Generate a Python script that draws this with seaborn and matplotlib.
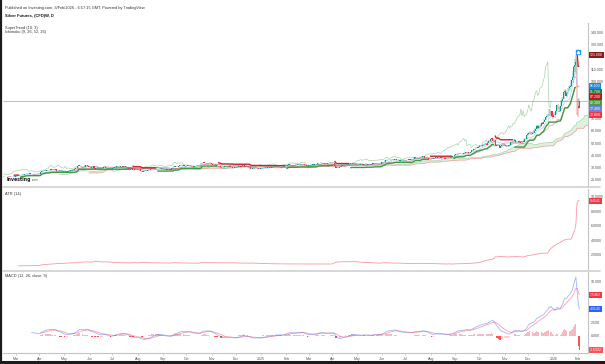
import numpy as np
import pandas as pd
import matplotlib
matplotlib.use("Agg")
import matplotlib.pyplot as plt
import seaborn as sns
from matplotlib.lines import Line2D
from matplotlib.transforms import blended_transform_factory

# ---------------- daily closes, by month ----------------
c_2024_02 = [22.9, 23.4, 23.3, 22.9, 22.7, 22.6, 22.8, 22.6, 22.5, 22.6, 22.7]
c_2024_03 = [23.2, 23.9, 23.8, 23.9, 24.2, 24.3, 24.4, 24.3, 24.9, 25.1, 25.0, 25.0, 25.3, 24.9, 25.0, 24.6, 24.5, 24.7, 24.8, 24.6, 25.1]
c_2024_04 = [25.1, 26.2, 27.1, 27.2, 27.5, 27.7, 28.0, 27.9, 28.2, 28.0, 29.0, 28.3, 28.2, 28.3, 28.7, 27.3, 27.2, 27.4, 27.5, 27.3, 27.3, 26.5]
c_2024_05 = [26.6, 26.7, 26.6, 27.2, 27.4, 27.5, 28.2, 28.2, 28.2, 29.0, 29.7, 29.6, 31.3, 31.9, 31.6, 30.5, 30.5, 30.4, 30.8, 32.1, 31.9, 31.3, 30.4]
c_2024_06 = [30.4, 29.6, 29.9, 31.3, 29.2, 29.7, 29.8, 29.5, 29.3, 29.6, 29.6, 29.7, 30.6, 30.9, 29.5, 29.6, 28.9, 29.0, 28.9, 29.1]
c_2024_07 = [29.6, 30.0, 30.5, 30.7, 31.3, 30.8, 30.8, 31.0, 31.2, 30.8, 31.0, 31.3, 30.4, 29.6, 29.2, 29.3, 29.3, 29.4, 28.0, 27.9, 28.6, 28.9, 28.9]
c_2024_08 = [28.8, 28.6, 27.3, 27.2, 26.9, 27.3, 27.5, 27.7, 27.9, 28.1, 28.5, 28.9, 29.5, 29.3, 29.6, 29.5, 29.9, 30.0, 29.8, 29.4, 29.5, 28.9]
c_2024_09 = [28.6, 28.4, 28.1, 28.6, 28.0, 28.3, 28.7, 28.4, 29.6, 30.7, 31.0, 30.7, 30.6, 30.6, 31.1, 31.9, 32.3, 31.6, 31.8, 31.4, 31.2]
c_2024_10 = [31.4, 32.0, 31.8, 32.1, 31.3, 31.2, 30.7, 31.0, 31.5, 31.6, 31.5, 31.6, 31.8, 33.7, 33.9, 34.5, 33.5, 33.8, 33.7, 33.6, 33.9, 33.8, 32.7]
c_2024_11 = [32.4, 32.3, 32.0, 32.3, 31.5, 31.2, 31.0, 30.7, 30.2, 30.4, 30.3, 31.0, 31.2, 31.3, 30.9, 31.3, 30.3, 30.4, 30.0, 30.1, 30.6]
c_2024_12 = [30.3, 30.7, 31.0, 31.3, 30.9, 31.5, 31.8, 31.8, 30.7, 30.6, 30.6, 30.3, 30.2, 29.1, 29.2, 29.5, 29.6, 29.7, 29.9, 29.5, 29.3, 28.9]
c_2025_01 = [29.4, 29.7, 29.8, 30.1, 30.0, 30.1, 30.2, 30.4, 29.7, 29.9, 30.3, 30.7, 30.7, 30.8, 30.6, 30.6, 30.5, 30.6, 30.3, 30.4, 31.0, 31.3, 31.3]
c_2025_02 = [31.7, 32.2, 32.9, 32.4, 31.8, 31.9, 32.1, 31.8, 32.4, 32.1, 32.8, 32.9, 32.9, 33.0, 32.9, 32.6, 31.9, 31.8, 31.2, 31.2]
c_2025_03 = [31.8, 32.0, 32.3, 32.7, 32.5, 32.6, 32.9, 33.0, 33.8, 33.8, 33.8, 34.0, 33.6, 33.5, 33.1, 33.1, 33.3, 33.6, 34.1, 34.1, 34.1]
c_2025_04 = [34.0, 34.0, 31.7, 29.6, 30.5, 29.6, 30.8, 30.9, 31.5, 32.3, 32.1, 32.5, 32.4, 32.4, 32.6, 32.6, 33.5, 33.6, 33.1, 33.0, 32.9, 32.9]
c_2025_05 = [32.3, 32.0, 32.4, 32.6, 32.7, 32.5, 32.9, 33.0, 33.3, 32.1, 32.5, 32.5, 32.4, 32.9, 33.5, 33.2, 33.4, 33.0, 33.1, 33.3, 33.3, 33.0]
c_2025_06 = [34.5, 34.5, 34.6, 35.9, 36.0, 36.0, 36.6, 36.1, 36.3, 36.3, 36.5, 36.8, 37.0, 36.0, 35.9, 35.9, 35.8, 36.0, 35.9, 36.0, 36.1]
c_2025_07 = [36.2, 36.0, 36.6, 36.9, 36.4, 36.7, 36.9, 37.3, 38.4, 38.2, 37.8, 37.6, 37.8, 38.2, 39.0, 39.2, 39.3, 38.2, 38.2, 38.1, 38.1, 37.1, 36.7]
c_2025_08 = [37.0, 37.4, 37.6, 37.9, 38.3, 38.4, 38.1, 37.8, 38.5, 38.2, 38.0, 38.0, 37.4, 37.8, 37.9, 38.9, 38.6, 38.5, 38.6, 39.2, 39.7]
c_2025_09 = [40.7, 41.0, 41.0, 41.3, 41.2, 41.2, 41.5, 41.2, 41.7, 42.2, 42.6, 42.4, 41.6, 41.9, 43.0, 44.0, 44.0, 44.8, 45.1, 46.5, 46.2, 46.5]
c_2025_10 = [47.3, 47.6, 47.9, 48.5, 48.7, 49.6, 48.5, 50.2, 51.5, 51.4, 53.0, 53.9, 51.8, 52.7, 47.9, 48.7, 48.6, 48.7, 46.4, 47.4, 48.1, 48.6, 48.8]
c_2025_11 = [48.0, 47.5, 47.9, 48.1, 48.3, 50.5, 50.7, 51.4, 52.8, 50.5, 50.5, 50.6, 51.5, 50.9, 50.1, 51.3, 51.0, 53.4, 53.5, 56.4]
c_2025_12 = [57.2, 58.3, 58.6, 57.1, 58.4, 58.2, 60.2, 61.8, 64.3, 62.0, 64.0, 63.5, 66.0, 65.5, 67.1, 69.0, 71.2, 71.8, 72.4, 77.9, 72.0, 76.3, 71.5]
c_2026_01 = [72.8, 73.1, 76.4, 81.0, 78.3, 76.0, 79.8, 84.6, 85.9, 91.3, 92.5, 88.6, 90.5, 94.7, 95.4, 96.4, 100.9, 103.5, 112.0, 113.5, 116.0, 80.5]
c_2026_02 = [78.5, 84.2]

# typical daily high-low range per month (Feb 2024 ... Feb 2026)
typical_range = [0.45, 0.55, 0.85, 1.0, 0.9, 0.85, 0.9, 0.85, 0.85, 0.9, 0.8, 0.75, 0.75,
                 0.75, 1.1, 0.8, 0.8, 0.75, 0.7, 0.85, 1.7, 1.6, 2.3, 4.5, 10.0]
# explicit highs / lows of the last ten sessions
last_high = [96.2, 97.0, 101.5, 108.5, 113.0, 118.5, 121.6, 119.5, 85.5, 86.5]
last_low = [92.0, 93.5, 96.0, 98.5, 103.0, 108.0, 105.0, 73.0, 71.0, 77.5]

# price-scale tags
tag_values = [121.6, 96.6, 91.7, 87.2, 82.3, 77.4, 72.8]
tag_colors = ["#8b1a1a", "#1e88e5", "#2e7d32", "#b71c1c", "#43a047", "#6f7fd8", "#f23645"]
ref_line_value = 84.2

header = "Published on Investing.com, 3/Feb/2026 - 6:57:15 GMT, Powered by TradingView"
title = "Silver Futures, (CFD)W, D"
ind1 = "SuperTrend (10, 3)"
ind2 = "Ichimoku (9, 26, 52, 26)"
atr_label = "ATR (14)"
macd_label = "MACD (12, 26, close, 9)"

# ---------------- build series ----------------
close = np.array(sum([c_2024_02, c_2024_03, c_2024_04, c_2024_05, c_2024_06, c_2024_07,
                      c_2024_08, c_2024_09, c_2024_10, c_2024_11, c_2024_12, c_2025_01,
                      c_2025_02, c_2025_03, c_2025_04, c_2025_05, c_2025_06, c_2025_07,
                      c_2025_08, c_2025_09, c_2025_10, c_2025_11, c_2025_12, c_2026_01,
                      c_2026_02], []), dtype=float)
n = len(close)
dates = pd.bdate_range(end="2026-02-03", periods=n)
months = pd.period_range("2024-02", "2026-02", freq="M")
rng_map = dict(zip(months, typical_range))
rng = np.array([rng_map.get(p, 1.0) for p in dates.to_period("M")])

opn = np.r_[close[0], close[:-1]]
bhi = np.maximum(opn, close)
blo = np.minimum(opn, close)
wick = np.maximum(0.08 * rng, (rng - (bhi - blo)) / 2)
high = bhi + wick
low = blo - wick
k = len(last_high)
high[-k:] = last_high
low[-k:] = last_low
high = np.maximum(high, bhi)
low = np.minimum(low, blo)

x = np.arange(n)
s_close, s_high, s_low = pd.Series(close), pd.Series(high), pd.Series(low)
prev_close = s_close.shift(1)
tr = pd.concat([s_high - s_low, (s_high - prev_close).abs(), (s_low - prev_close).abs()],
               axis=1).max(axis=1).values


def rma(v, p):
    out = np.full(len(v), np.nan)
    out[p - 1] = np.mean(v[:p])
    for i in range(p, len(v)):
        out[i] = (out[i - 1] * (p - 1) + v[i]) / p
    return out


atr14 = rma(tr, 14)

# SuperTrend (10, 3)
atr10 = rma(tr, 10)
hl2 = (high + low) / 2
lb = hl2 - 3 * atr10
ub = hl2 + 3 * atr10
st = np.full(n, np.nan)
dirn = np.zeros(n)
for i in range(n):
    if np.isnan(atr10[i]):
        continue
    if i > 0 and not np.isnan(atr10[i - 1]):
        if not (lb[i] > lb[i - 1] or close[i - 1] < lb[i - 1]):
            lb[i] = lb[i - 1]
        if not (ub[i] < ub[i - 1] or close[i - 1] > ub[i - 1]):
            ub[i] = ub[i - 1]
        if st[i - 1] == ub[i - 1]:
            dirn[i] = -1 if close[i] > ub[i] else 1
        else:
            dirn[i] = 1 if close[i] < lb[i] else -1
    else:
        dirn[i] = 1
    st[i] = lb[i] if dirn[i] == -1 else ub[i]
st_up = np.where(dirn == -1, st, np.nan)
st_dn = np.where(dirn == 1, st, np.nan)


# Ichimoku
def donchian(p):
    return ((s_high.rolling(p).max() + s_low.rolling(p).min()) / 2).values


conv = donchian(9)
base = donchian(26)
lead_a = (conv + base) / 2
lead_b = donchian(52)
disp = 25

# MACD
ema12 = s_close.ewm(span=12, adjust=False).mean()
ema26 = s_close.ewm(span=26, adjust=False).mean()
macd = (ema12 - ema26).values
signal = pd.Series(macd).ewm(span=9, adjust=False).mean().values
hist = macd - signal
macd[:25] = np.nan
signal[:33] = np.nan
hist[:33] = np.nan

# ---------------- figure ----------------
sns.set_theme(style="white")
plt.rcParams["font.family"] = ["Liberation Sans Narrow", "Liberation Sans", "DejaVu Sans"]

W, H = 605, 364
fig = plt.figure(figsize=(W / 100, H / 100), dpi=100)


def axrect(x0, y0, x1, y1):
    return [x0 / W, 1 - y1 / H, (x1 - x0) / W, (y1 - y0) / H]


ax = fig.add_axes(axrect(3, 23, 588, 186))
ax_atr = fig.add_axes(axrect(3, 189, 588, 269), sharex=ax)
ax_macd = fig.add_axes(axrect(3, 272, 588, 353), sharex=ax)


def sline(a, xs, ys, **kw):
    xs = np.asarray(xs, float)
    ys = np.asarray(ys, float)
    m = np.isfinite(ys)
    sns.lineplot(x=xs[m], y=ys[m], ax=a, estimator=None, sort=False, legend=False, **kw)


# main pane
ax.axhline(ref_line_value, color="#8c9ff5", lw=0.6, alpha=0.8, zorder=1)
xa = x + disp
ax.fill_between(xa, lead_a, lead_b, where=lead_a >= lead_b, color="#A5D6A7", alpha=0.35,
                interpolate=True, lw=0, zorder=1)
ax.fill_between(xa, lead_a, lead_b, where=lead_a < lead_b, color="#EF9A9A", alpha=0.35,
                interpolate=True, lw=0, zorder=1)
sline(ax, xa, lead_a, color="#A5D6A7", linewidth=0.5, zorder=1.5)
sline(ax, xa, lead_b, color="#EF9A9A", linewidth=0.5, zorder=1.5)
sline(ax, x - disp, close, color="#43A047", linewidth=0.5, alpha=0.45, zorder=2)
sline(ax, x, conv, color="#2962FF", linewidth=0.5, alpha=0.35, zorder=2)
sline(ax, x, base, color="#B71C1C", linewidth=0.5, alpha=0.4, zorder=2)
ax.plot(x, st_up, color="#3d9a40", lw=1.0, zorder=3, solid_capstyle="butt")
ax.plot(x, st_dn, color="#c0282d", lw=1.0, zorder=3, solid_capstyle="butt")

up = close >= opn
cols = np.where(up, "#089981", "#f23645")
ax.vlines(x, low, high, colors=cols, lw=0.35, zorder=4)
ax.bar(x, np.maximum(bhi - blo, 0.08), bottom=blo, width=0.75, color=cols, linewidth=0, zorder=4)

imax = int(np.argmax(high))
ax.plot([x[imax] + 1.5], [high[imax] + 2.5], marker="s", ms=3.2, color="#2196f3", zorder=6,
        clip_on=False)
ax.plot([x[imax] + 1.5], [high[imax] + 2.5], marker="^", ms=1.6, color="white", zorder=7,
        clip_on=False)

# ATR pane
sline(ax_atr, x, atr14, color="#f23645", linewidth=0.6, alpha=0.5)

# MACD pane
hprev = np.r_[np.nan, hist[:-1]]
hcols = []
for h, hp in zip(hist, hprev):
    if np.isnan(h):
        hcols.append("#ffffff")
    elif h >= 0:
        hcols.append("#f7b9bf")
    else:
        hcols.append("#ffcdd2" if (not np.isnan(hp) and hp < h) else "#ff5252")
ax_macd.bar(x, np.nan_to_num(hist), width=0.8, color=hcols, linewidth=0, zorder=1)
sline(ax_macd, x, macd, color="#2962FF", linewidth=0.6, alpha=0.45, zorder=2)
sline(ax_macd, x, signal, color="#f23645", linewidth=0.6, alpha=0.45, zorder=2)

# ---------------- axes styling ----------------
ax.set_xlim(-0.5, 520.8)
ax.set_ylim(15.12, 147.64)
ax_atr.set_ylim(0.069, 11.10)
ax_macd.set_ylim(-3.24, 11.76)

for a in (ax, ax_atr, ax_macd):
    a.set_xlabel("")
    a.set_ylabel("")
    a.set_facecolor("none")
    for s in ("top", "left", "bottom"):
        a.spines[s].set_visible(False)
    a.spines["right"].set_color("#c4c4c4")
    a.spines["right"].set_linewidth(0.8)
    a.yaxis.tick_right()
    a.tick_params(axis="y", labelsize=2.6, labelcolor="#555555", length=0, pad=2.2)
    a.grid(False)

ax_macd.spines["bottom"].set_visible(True)
ax_macd.spines["bottom"].set_color("#c4c4c4")
ax_macd.spines["bottom"].set_linewidth(0.8)

main_ticks = np.arange(20, 141, 10)
ax.set_yticks(main_ticks)
ax.set_yticklabels([f"{v:.3f}" for v in main_ticks])
atr_ticks = [2, 4, 6, 8, 10]
ax_atr.set_yticks(atr_ticks)
ax_atr.set_yticklabels([f"{v:.4f}" for v in atr_ticks])
macd_ticks = [-2.5, 0, 2.5, 5, 7.5, 10]
ax_macd.set_yticks(macd_ticks)
ax_macd.set_yticklabels([f"{v:.3f}" for v in macd_ticks])

mstart = [i for i in range(1, n) if dates[i].month != dates[i - 1].month]
mlabels = [str(dates[i].year) if dates[i].month == 1 else dates[i].strftime("%b") for i in mstart]
ax_macd.set_xticks(mstart)
ax_macd.set_xticklabels(mlabels)
ax_macd.tick_params(axis="x", labelsize=2.6, labelcolor="#555555", length=1.5, width=0.4,
                    color="#aaaaaa", pad=1.2, bottom=True)
ax.tick_params(axis="x", labelbottom=False, length=0)
ax_atr.tick_params(axis="x", labelbottom=False, length=0)


def tag(a, val, color, fmt):
    a.text(1.003, val, fmt.format(val), transform=blended_transform_factory(a.transAxes, a.transData),
           ha="left", va="center", fontsize=2.5, color="white", zorder=30, clip_on=False,
           bbox=dict(boxstyle="square,pad=0.3", fc=color, ec="none"))


for v, c in zip(tag_values, tag_colors):
    tag(ax, v, c, "{:.3f}")
tag(ax_atr, atr14[-1], "#f23645", "{:.4f}")
tag(ax_macd, signal[-1], "#f23645", "{:.4f}")
tag(ax_macd, macd[-1], "#2962ff", "{:.4f}")
tag(ax_macd, hist[-1], "#ff5252", "{:.4f}")

# ---------------- texts & frame ----------------
def ftext(px, py, s, **kw):
    return fig.text(px / W, 1 - py / H, s, va="center", ha="left", **kw)


ftext(5, 7.7, header, fontsize=2.8, color="#333333")
ftext(5, 15.7, title, fontsize=2.9, color="#111111", fontweight="bold")
ftext(5, 28.0, ind1, fontsize=2.8, color="#333333")
ftext(5, 32.4, ind2, fontsize=2.8, color="#333333")
ftext(5, 193.5, atr_label, fontsize=2.8, color="#333333")
ftext(5, 275.8, macd_label, fontsize=2.8, color="#333333")
logo = ftext(6.5, 179.5, "Investing", fontsize=3.3, color="#1a1a1a", fontweight="bold",
             family=["DejaVu Sans"])
fig.canvas.draw()
bb = logo.get_window_extent(renderer=fig.canvas.get_renderer())
ftext(bb.x1 + 0.8, 180.4, ".com", fontsize=2.2, color="#555555")

for yy in (187.5, 270.5):
    fig.add_artist(Line2D([3 / W, 600 / W], [1 - yy / H] * 2, color="#d0d0d0", lw=1.2))
fig.add_artist(Line2D([1 / W, 1 / W], [0, 1], color="#1c1c1c", lw=1.6))
fig.add_artist(Line2D([0, 1], [1 - 362 / H, 1 - 362 / H], color="#1c1c1c", lw=2.2))

fig.savefig("out.png", dpi=100)
